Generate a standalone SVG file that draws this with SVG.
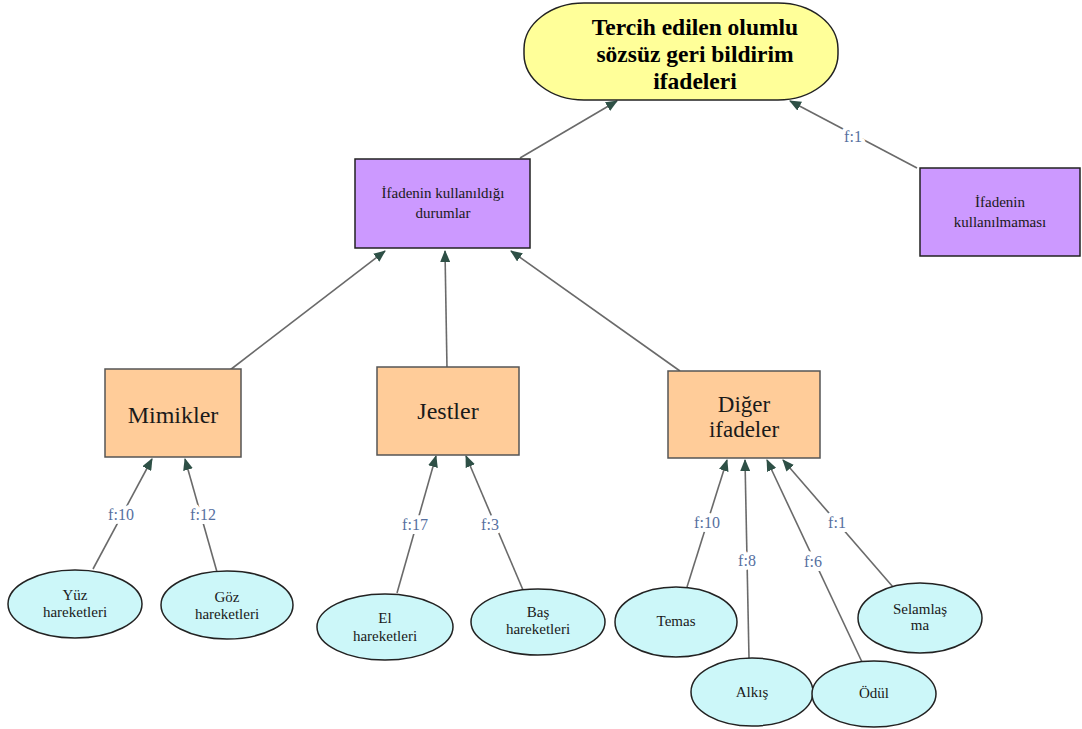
<svg xmlns="http://www.w3.org/2000/svg" width="1082" height="729" viewBox="0 0 1082 729">
<style>
.t{font-family:"Liberation Serif","DejaVu Serif",serif;fill:#1a1a1a;text-anchor:middle}
.top{font-weight:bold;font-size:23.5px;fill:#000}
.pur{fill:#cc99ff;stroke:#222;stroke-width:1.5}
.org{fill:#ffcc99;stroke:#555;stroke-width:1.5}
.ell{fill:#ccf7f9;stroke:#222;stroke-width:1.5}
.c{stroke:#6a6a6a;stroke-width:1.6;fill:none;marker-end:url(#ah)}
.lb{font-family:"Liberation Serif","DejaVu Serif",serif;font-size:16px;fill:#56709f;text-anchor:middle;stroke:#fff;stroke-width:8px;paint-order:stroke;stroke-linejoin:round}
</style>
<defs>
<marker id="ah" markerUnits="userSpaceOnUse" markerWidth="12" markerHeight="10" viewBox="0 0 12 10" refX="11" refY="5" orient="auto">
<path d="M0,0 L12,5 L0,10 Z" fill="#2e5046"/>
</marker>
</defs>
<rect width="1082" height="729" fill="#fff"/>
<g id="connectors">
<line class="c" x1="520" y1="158" x2="617" y2="101"/>
<line class="c" x1="917" y1="168" x2="790" y2="101"/>
<line class="c" x1="230" y1="370" x2="385" y2="251"/>
<line class="c" x1="447" y1="368" x2="445" y2="251"/>
<line class="c" x1="680" y1="371" x2="511" y2="251"/>
<line class="c" x1="93" y1="569" x2="152" y2="459"/>
<line class="c" x1="217" y1="572" x2="185" y2="459"/>
<line class="c" x1="397" y1="593" x2="436" y2="456"/>
<line class="c" x1="523" y1="590" x2="466" y2="456"/>
<line class="c" x1="687" y1="587" x2="727" y2="460"/>
<line class="c" x1="749" y1="658" x2="745" y2="460"/>
<line class="c" x1="862" y1="662" x2="767" y2="460"/>
<line class="c" x1="893" y1="587" x2="783" y2="460"/>
<text class="lb" x="853" y="142">f:1</text>
<text class="lb" x="121" y="520">f:10</text>
<text class="lb" x="203" y="520">f:12</text>
<text class="lb" x="415" y="530">f:17</text>
<text class="lb" x="490" y="530">f:3</text>
<text class="lb" x="707" y="528">f:10</text>
<text class="lb" x="747" y="566">f:8</text>
<text class="lb" x="813" y="567">f:6</text>
<text class="lb" x="837" y="528">f:1</text>
</g>
<g id="root">
<rect x="524" y="3" width="314" height="97" rx="60" ry="46" fill="#ffff99" stroke="#222" stroke-width="1.5"/>
<text class="t top" x="695" y="35">Tercih edilen olumlu</text>
<text class="t top" x="695" y="62">sözsüz geri bildirim</text>
<text class="t top" x="695" y="89">ifadeleri</text>
</g>
<g id="kullanildigi">
<rect class="pur" x="355" y="159" width="175" height="89"/>
<text class="t" x="443" y="198" font-size="15">İfadenin kullanıldığı</text>
<text class="t" x="443" y="218" font-size="15">durumlar</text>
</g>
<g id="kullanilmamasi">
<rect class="pur" x="920" y="168" width="160" height="88"/>
<text class="t" x="1000" y="207" font-size="15">İfadenin</text>
<text class="t" x="1000" y="227" font-size="15">kullanılmaması</text>
</g>
<g id="mimikler">
<rect class="org" x="105" y="369" width="136" height="88"/>
<text class="t" x="173" y="423" font-size="24">Mimikler</text>
</g>
<g id="jestler">
<rect class="org" x="377" y="367" width="142" height="88"/>
<text class="t" x="448" y="419" font-size="24">Jestler</text>
</g>
<g id="diger">
<rect class="org" x="668" y="371" width="152" height="87"/>
<text class="t" x="744" y="412" font-size="23">Diğer</text>
<text class="t" x="744" y="437" font-size="23">ifadeler</text>
</g>
<g id="yuz">
<ellipse class="ell" cx="75" cy="604" rx="67" ry="34"/>
<text class="t" x="75" y="600" font-size="15">Yüz</text>
<text class="t" x="75" y="617" font-size="15">hareketleri</text>
</g>
<g id="goz">
<ellipse class="ell" cx="227" cy="605" rx="66" ry="34"/>
<text class="t" x="227" y="602" font-size="15">Göz</text>
<text class="t" x="227" y="619" font-size="15">hareketleri</text>
</g>
<g id="el">
<ellipse class="ell" cx="385" cy="627" rx="68" ry="33"/>
<text class="t" x="385" y="623" font-size="15">El</text>
<text class="t" x="385" y="641" font-size="15">hareketleri</text>
</g>
<g id="bas">
<ellipse class="ell" cx="538" cy="622" rx="67" ry="33"/>
<text class="t" x="538" y="617" font-size="15">Baş</text>
<text class="t" x="538" y="634" font-size="15">hareketleri</text>
</g>
<g id="temas">
<ellipse class="ell" cx="676" cy="622" rx="61" ry="35"/>
<text class="t" x="676" y="626" font-size="15">Temas</text>
</g>
<g id="alkis">
<ellipse class="ell" cx="752" cy="692" rx="61" ry="34"/>
<text class="t" x="752" y="697" font-size="15">Alkış</text>
</g>
<g id="odul">
<ellipse class="ell" cx="874" cy="694" rx="62" ry="33"/>
<text class="t" x="874" y="698" font-size="15">Ödül</text>
</g>
<g id="selamlasma">
<ellipse class="ell" cx="920" cy="618" rx="62" ry="35"/>
<text class="t" x="920" y="614" font-size="15">Selamlaş</text>
<text class="t" x="920" y="630" font-size="15">ma</text>
</g>
</svg>
